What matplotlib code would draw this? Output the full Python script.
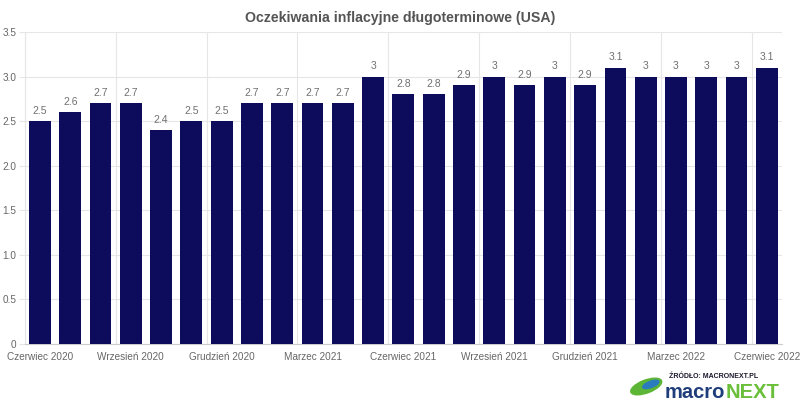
import matplotlib.pyplot as plt
from matplotlib.patches import Ellipse
from matplotlib.transforms import offset_copy

plt.rcParams['font.family'] = ['Liberation Sans', 'DejaVu Sans']

months = ['Czerwiec 2020', 'Lipiec 2020', 'Sierpień 2020', 'Wrzesień 2020', 'Październik 2020',
          'Listopad 2020', 'Grudzień 2020', 'Styczeń 2021', 'Luty 2021', 'Marzec 2021',
          'Kwiecień 2021', 'Maj 2021', 'Czerwiec 2021', 'Lipiec 2021', 'Sierpień 2021',
          'Wrzesień 2021', 'Październik 2021', 'Listopad 2021', 'Grudzień 2021', 'Styczeń 2022',
          'Luty 2022', 'Marzec 2022', 'Kwiecień 2022', 'Maj 2022', 'Czerwiec 2022']
values = [2.5, 2.6, 2.7, 2.7, 2.4, 2.5, 2.5, 2.7, 2.7, 2.7, 2.7, 3.0, 2.8,
          2.8, 2.9, 3.0, 2.9, 3.0, 2.9, 3.1, 3.0, 3.0, 3.0, 3.0, 3.1]
yticks = [0, 0.5, 1.0, 1.5, 2.0, 2.5, 3.0, 3.5]
ytick_labels = ['0', '0.5', '1.0', '1.5', '2.0', '2.5', '3.0', '3.5']

navy = '#0c0b5c'
txt = '#666666'
grid = '#e6e6e6'

fig = plt.figure(figsize=(8, 4), dpi=100)
ax = fig.add_axes([0.031, 0.14, 0.9465, 0.78])

x = list(range(len(values)))
ax.bar(x, values, width=0.72, color=navy, zorder=3)

for xi, v in zip(x, values):
    lab = ('%g' % v)
    ax.text(xi, v + 0.06, lab, ha='center', va='bottom', fontsize=7.5, color='#707070')

ax.set_xlim(-0.5, len(values) - 0.5)
ax.set_ylim(0, 3.5)
ax.set_yticks(yticks)
ax.set_yticklabels(ytick_labels)
ax.set_xticks(x[::3])
ax.set_xticklabels(months[::3])
ax.tick_params(axis='both', labelsize=7.2, colors=txt, length=0)
ax.tick_params(axis='x', pad=6)
ax.tick_params(axis='y', length=4, color=grid, pad=2)

# horizontal and vertical grid lines
ax.yaxis.grid(True, color=grid, lw=0.8, zorder=0)
for b in range(0, len(values) + 1, 3):
    ax.axvline(b - 0.5, color=grid, lw=0.8, zorder=0)

for s in ['top', 'right']:
    ax.spines[s].set_visible(False)
ax.spines['left'].set_color(grid)
ax.spines['bottom'].set_color('#cccccc')

fig.text(0.5, 0.955, 'Oczekiwania inflacyjne długoterminowe (USA)', ha='center', va='center',
         fontsize=10.2, fontweight='bold', color='#555555')

# logo
fig.text(0.836, 0.06, 'ŹRÓDŁO: MACRONEXT.PL', ha='left', va='center', fontsize=5,
         fontweight='bold', color='#1a1a2e')
t1 = fig.text(0.831, 0.02, 'macro', ha='left', va='center', fontsize=14.5, fontweight='bold',
              color='#1f3d7a')
fig.canvas.draw()
w = t1.get_window_extent().width
fig.text(0.831, 0.02, 'NEXT', ha='left', va='center', fontsize=14.5, fontweight='bold',
         color='#6abf3a', transform=offset_copy(fig.transFigure, fig=fig, x=w, y=0, units='dots'))
lax = fig.add_axes([0.788, 0.0, 0.044, 0.075])
lax.set_xlim(0, 1)
lax.set_ylim(0, 1)
lax.axis('off')
lax.add_patch(Ellipse((0.45, 0.45), 0.95, 0.42, angle=25, color='#5db535'))
lax.add_patch(Ellipse((0.58, 0.52), 0.5, 0.2, angle=25, color='#2b7bbf'))

fig.savefig('out.png', dpi=100)
